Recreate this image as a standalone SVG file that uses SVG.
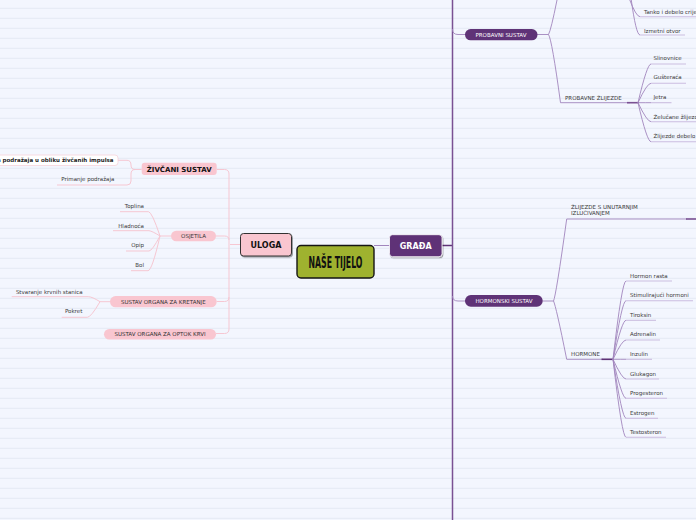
<svg xmlns="http://www.w3.org/2000/svg" width="696" height="520" viewBox="0 0 696 520">
<defs>
<pattern id="bg" patternUnits="userSpaceOnUse" width="696" height="10">
<rect x="0" y="0" width="696" height="10" fill="#f3f6fe"/>
<rect x="0" y="7.8" width="696" height="1" fill="#e5eaf5"/>
</pattern>
<filter id="sh" x="-20%" y="-20%" width="140%" height="150%">
<feDropShadow dx="1" dy="1.2" stdDeviation="0.6" flood-color="#000" flood-opacity="0.35"/>
</filter>
</defs>
<style>
.t{font-family:"DejaVu Sans",Verdana,sans-serif;font-size:5.5px;fill:#3a3a3a}
.tb{font-family:"DejaVu Sans",Verdana,sans-serif;font-size:5.5px;fill:#222;font-weight:bold}
.e{text-anchor:end}
.pk{fill:none;stroke:#f6c7d2;stroke-width:1}
.pu{fill:none;stroke:#a286bd;stroke-width:0.9}
.ul{fill:none;stroke:#cbbde0;stroke-width:1.1}
.pkn{fill:#f9c6d0}
.pun{fill:#5f3377}
.wt{font-family:"DejaVu Sans",Verdana,sans-serif;font-size:5.5px;fill:#ffffff;text-anchor:middle}
.pt{font-family:"DejaVu Sans",Verdana,sans-serif;font-size:5.5px;fill:#333;text-anchor:middle}
</style>
<rect width="696" height="520" fill="url(#bg)"/>

<g id="connectors">
<line x1="374" y1="245.5" x2="390" y2="245.5" stroke="#a286bd" stroke-width="1"/>
<line x1="230" y1="244.5" x2="241" y2="244.5" stroke="#f6c7d2" stroke-width="1"/>
<line x1="442" y1="245.5" x2="452.5" y2="245.5" stroke="#5f3377" stroke-width="1.5"/>
<line x1="452.5" y1="0" x2="452.5" y2="520" stroke="#7a5193" stroke-width="1.5"/>
<path class="pu" d="M452.5,29 Q452.5,34.5 458,34.5 H466"/>
<path class="pu" d="M452.5,296 Q452.5,301 458,301 H466"/>
<path class="pu" d="M537,34.5 H548.5"/>
<path class="pu" d="M548.5,34.5 Q551,30 557,0"/>
<path class="pu" d="M548.5,34.5 Q552,40 560.5,102.7 H630"/>
<line x1="627" y1="102.7" x2="639" y2="102.7" stroke="#7a5193" stroke-width="1.6"/>
<path class="pu" d="M629,-2 Q636,16.7 640,16.7"/>
<path class="pu" d="M631,-2 Q636,35 640,35"/>
<path class="ul" d="M640,16.7 H696"/>
<path class="ul" d="M640,35 H685"/>
<path class="pu" d="M638,102.7 Q647,64 651,64"/>
<path class="pu" d="M638,102.7 Q647,83.3 651,83.3"/>
<path class="pu" d="M638,102.7 Q647,102.7 651,102.7"/>
<path class="pu" d="M638,102.7 Q647,121.7 651,121.7"/>
<path class="pu" d="M638,102.7 Q647,141.7 651,141.7"/>
<path class="ul" d="M651,64 H686"/>
<path class="ul" d="M651,83.3 H686"/>
<path class="ul" d="M651,102.7 H671.5"/>
<path class="ul" d="M651,121.7 H696"/>
<path class="ul" d="M651,141.7 H696"/>
<path class="pu" d="M542.5,301 H553.5"/>
<path class="pu" d="M553.5,301 Q556,296 566.7,219 H687"/>
<line x1="686" y1="219" x2="696" y2="219" stroke="#7a5193" stroke-width="1.6"/>
<path class="pu" d="M553.5,301 Q556,306 566.7,359.3 H603"/>
<line x1="601.5" y1="359.3" x2="614" y2="359.3" stroke="#5f3377" stroke-width="1.6"/>
<path class="pu" d="M613,359.3 Q622,281 626,281"/>
<path class="pu" d="M613,359.3 Q622,300.7 626,300.7"/>
<path class="pu" d="M613,359.3 Q622,320.3 626,320.3"/>
<path class="pu" d="M613,359.3 Q622,340 626,340"/>
<path class="pu" d="M613,359.3 Q622,359.3 626,359.3"/>
<path class="pu" d="M613,359.3 Q622,379 626,379"/>
<path class="pu" d="M613,359.3 Q622,398.3 626,398.3"/>
<path class="pu" d="M613,359.3 Q622,418.3 626,418.3"/>
<path class="pu" d="M613,359.3 Q622,437.3 626,437.3"/>
<path class="ul" d="M626,281 H672"/>
<path class="ul" d="M626,300.7 H693"/>
<path class="ul" d="M626,320.3 H656"/>
<path class="ul" d="M626,340 H660"/>
<path class="ul" d="M626,359.3 H652"/>
<path class="ul" d="M626,379 H659"/>
<path class="ul" d="M626,398.3 H667"/>
<path class="ul" d="M626,418.3 H658"/>
<path class="ul" d="M626,437.3 H666"/>
<path class="pk" d="M216.7,169.5 H224.5 Q229,169.5 229,174 V329 Q229,333.5 224.5,333.5 H216"/>
<path class="pk" d="M216,236 H224.5 Q229,236 229,240"/>
<path class="pk" d="M216.7,301.5 H224.5 Q229,301.5 229,297"/>
<path class="pk" d="M141.7,169.5 H135 Q131,169.5 131,165 Q131,160.3 127,160.3 H118"/>
<path class="pk" d="M135,169.5 Q131,169.5 131,174 V181 Q131,185 127,185 H57"/>
<path class="pk" d="M171,236 H160"/>
<path class="pk" d="M160,236 Q152,212 148.5,211.7 H120"/>
<path class="pk" d="M160,236 Q152,231 149,230.7 H113"/>
<path class="pk" d="M160,236 Q152,251 149,251 H126"/>
<path class="pk" d="M160,236 Q152,270.7 148,270.7 H131"/>
<path class="pk" d="M110,301.7 H100"/>
<path class="pk" d="M100,301.7 Q92,296.7 88.3,296.7 H11.7"/>
<path class="pk" d="M100,301.7 Q91,317.3 87.3,317.3 H61.7"/>
</g>

<g id="center">
<rect x="297" y="245.5" width="77" height="32.5" rx="4" fill="#9fb22f" stroke="#151515" stroke-width="1.4"/>
<text x="335.5" y="267.5" text-anchor="middle" font-family="'DejaVu Sans Condensed','DejaVu Sans',sans-serif" font-weight="bold" font-size="15" fill="#111" textLength="54" lengthAdjust="spacingAndGlyphs">NAŠE TIJELO</text>
</g>
<g id="uloga">
<rect x="240.5" y="233.5" width="51" height="22.5" rx="3" fill="#f9c6d0" stroke="#333" stroke-width="1" filter="url(#sh)"/>
<text x="266" y="248" text-anchor="middle" font-family="'DejaVu Sans',sans-serif" font-weight="bold" font-size="8" fill="#111">ULOGA</text>
</g>
<g id="grada">
<rect x="389.5" y="234.7" width="52.5" height="22" rx="3" fill="#5f3377" stroke="#ffffff" stroke-width="0.8" filter="url(#sh)"/>
<text x="415.7" y="249" text-anchor="middle" font-family="'DejaVu Sans',sans-serif" font-weight="bold" font-size="8" fill="#ffffff">GRAĐA</text>
</g>

<g id="zivcani">
<rect x="141.7" y="162.7" width="75" height="12.3" rx="3" class="pkn"/>
<text x="179.2" y="171.5" text-anchor="middle" font-family="'DejaVu Sans',sans-serif" font-weight="bold" font-size="7" fill="#111">ŽIVČANI SUSTAV</text>
</g>
<g id="prenosenje">
<rect x="-10" y="155" width="128" height="10.5" rx="3" fill="#ffffff" stroke="#f6d3db" stroke-width="0.8"/>
<text class="tb e" x="113.5" y="162.4">a podražaja u obliku živčanih impulsa</text>
</g>
<g id="primanje"><text class="t e" x="114.3" y="181.2">Primanje podražaja</text></g>

<g id="osjetila">
<rect x="171" y="230.7" width="45" height="10.5" rx="5.2" class="pkn"/>
<text class="pt" x="193.5" y="238">OSJETILA</text>
</g>
<g id="toplina"><text class="t e" x="144" y="208.2">Toplina</text></g>
<g id="hladnoca"><text class="t e" x="144" y="228.2">Hladnoća</text></g>
<g id="opip"><text class="t e" x="144" y="247.2">Opip</text></g>
<g id="bol"><text class="t e" x="144" y="267.2">Bol</text></g>

<g id="kretanje">
<rect x="110" y="296" width="106.7" height="11.3" rx="5.6" class="pkn"/>
<text class="pt" x="163.3" y="303.7">SUSTAV ORGANA ZA KRETANJE</text>
</g>
<g id="stvaranje"><text class="t e" x="82.7" y="293.7">Stvaranje krvnih stanica</text></g>
<g id="pokret"><text class="t e" x="82.3" y="313.2">Pokret</text></g>

<g id="optok">
<rect x="104" y="329" width="112" height="10.5" rx="5.2" class="pkn"/>
<text class="pt" x="160" y="336.2">SUSTAV ORGANA ZA OPTOK KRVI</text>
</g>

<g id="probavni">
<rect x="465" y="29" width="72.5" height="11.3" rx="5.6" class="pun"/>
<text class="wt" x="501" y="36.8">PROBAVNI SUSTAV</text>
</g>
<g id="tanko"><text class="t" x="644" y="13.8">Tanko i debelo crije</text></g>
<g id="izmetni"><text class="t" x="644" y="33">Izmetni otvor</text></g>
<g id="probavne"><text class="t" x="565" y="100.2">PROBAVNE ŽLIJEZDE</text></g>
<g id="slinovnice"><text class="t" x="653.5" y="59.7">Slinovnice</text></g>
<g id="gusteraca"><text class="t" x="653.5" y="79.2">Gušteraća</text></g>
<g id="jetra"><text class="t" x="653.5" y="99.2">Jetra</text></g>
<g id="zelucane"><text class="t" x="653.5" y="118.7">Želučane žlijezd</text></g>
<g id="debelo"><text class="t" x="653.5" y="138.2">Žlijezde debelo</text></g>

<g id="hormonski">
<rect x="465" y="295" width="77.7" height="11.7" rx="5.8" class="pun"/>
<text class="wt" x="504" y="302.9">HORMONSKI SUSTAV</text>
</g>
<g id="zlijezde"><text class="t" x="571" y="208.7">ŽLIJEZDE S UNUTARNJIM</text><text class="t" x="571" y="215.2">IZLUČIVANJEM</text></g>
<g id="hormone"><text class="t" x="571" y="356.2">HORMONE</text></g>
<g id="rasta"><text class="t" x="630" y="277.7">Hormon rasta</text></g>
<g id="stimulirajuci"><text class="t" x="630" y="297.2">Stimulirajući hormoni</text></g>
<g id="tiroksin"><text class="t" x="630" y="316.7">Tiroksin</text></g>
<g id="adrenalin"><text class="t" x="630" y="336.2">Adrenalin</text></g>
<g id="inzulin"><text class="t" x="630" y="356.2">Inzulin</text></g>
<g id="glukagon"><text class="t" x="630" y="375.5">Glukagon</text></g>
<g id="progesteron"><text class="t" x="630" y="395.2">Progesteron</text></g>
<g id="estrogen"><text class="t" x="630" y="414.5">Estrogen</text></g>
<g id="testosteron"><text class="t" x="630" y="434.2">Testosteron</text></g>
</svg>
